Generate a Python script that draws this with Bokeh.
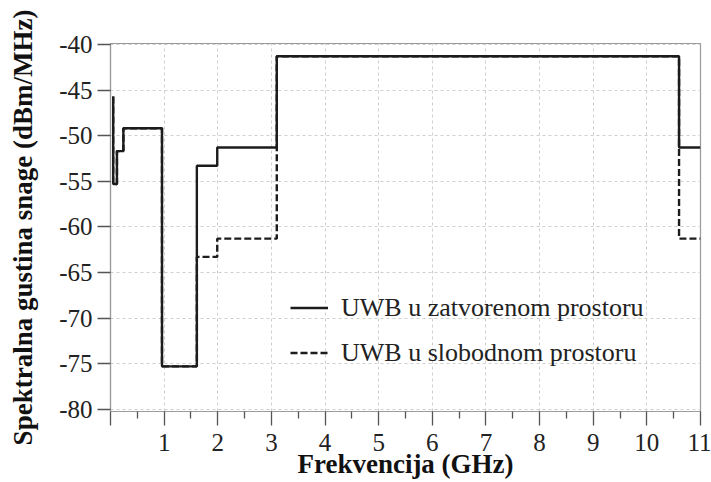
from bokeh.plotting import figure
from bokeh.models import Range1d, FixedTicker, Legend, LegendItem
from bokeh.embed import file_html
from bokeh.resources import INLINE

# Step edges (GHz) and PSD levels (dBm/MHz), mode "after"
freq_indoor = [0.05, 0.05, 0.12, 0.24, 0.96, 1.61, 1.99, 3.10, 10.60, 11.00]
psd_indoor = [-45.7, -55.3, -51.7, -49.2, -75.3, -53.3, -51.3, -41.3, -51.3, -51.3]

freq_outdoor = [0.05, 0.05, 0.12, 0.24, 0.96, 1.61, 1.99, 3.10, 10.60, 11.00]
psd_outdoor = [-45.7, -55.3, -51.7, -49.2, -75.3, -63.3, -61.3, -41.3, -61.3, -61.3]

x_ticks = [0, 1, 2, 3, 4, 5, 6, 7, 8, 9, 10, 11]
x_minor = [0.5, 1.5, 2.5, 3.5, 4.5, 5.5, 6.5, 7.5, 8.5, 9.5, 10.5]
x_labels = {0: "", 1: "1", 2: "2", 3: "3", 4: "4", 5: "5", 6: "6",
            7: "7", 8: "8", 9: "9", 10: "10", 11: "11"}
y_ticks = [-80, -75, -70, -65, -60, -55, -50, -45, -40]
y_labels = {-80: "-80", -75: "-75", -70: "-70", -65: "-65", -60: "-60",
            -55: "-55", -50: "-50", -45: "-45", -40: "-40"}

label_indoor = "UWB u zatvorenom prostoru"
label_outdoor = "UWB u slobodnom prostoru"
x_title = "Frekvencija (GHz)"
y_title = "Spektralna gustina snage (dBm/MHz)"

FONT = "Liberation Serif"
INK = "#1c1c1c"

p = figure(width=711, height=482, output_backend="svg", toolbar_location=None,
           x_range=Range1d(0, 11), y_range=Range1d(-80.25, -39.9),
           min_border_left=110, min_border_right=11, min_border_top=43,
           min_border_bottom=71)

p.outline_line_color = "#9a9a9a"
p.outline_line_width = 1.2
p.background_fill_color = "white"
p.border_fill_color = "white"

r_out = p.step(freq_outdoor, psd_outdoor, mode="after", line_color=INK,
               line_width=2.4, line_dash="7 3")
r_in = p.step(freq_indoor, psd_indoor, mode="after", line_color=INK,
              line_width=2.4)

# axes
xa = p.xaxis[0]
xa.ticker = FixedTicker(ticks=x_ticks, minor_ticks=x_minor)
xa.major_label_overrides = x_labels
ya = p.yaxis[0]
ya.ticker = FixedTicker(ticks=y_ticks, minor_ticks=[])
ya.major_label_overrides = y_labels

for ax in (xa, ya):
    ax.axis_line_color = "#9a9a9a"
    ax.axis_line_width = 1.2
    ax.major_tick_line_color = "#555555"
    ax.major_tick_line_width = 1.3
    ax.minor_tick_line_color = "#555555"
    ax.minor_tick_line_width = 1.3
    ax.major_tick_in = 0
    ax.minor_tick_in = 0
    ax.major_label_text_font = FONT
    ax.major_label_text_font_size = "25px"
    ax.major_label_text_color = "#222222"
    ax.axis_label_text_font = FONT
    ax.axis_label_text_font_size = "27px"
    ax.axis_label_text_font_style = "bold"
    ax.axis_label_text_color = "#111111"

xa.major_tick_out = 14
xa.minor_tick_out = 7
xa.major_label_standoff = 8
xa.axis_label = x_title
xa.axis_label_standoff = -5

ya.major_tick_out = 13
ya.minor_tick_out = 0
ya.major_label_standoff = 5
ya.axis_label = y_title
ya.axis_label_standoff = 18

# grid
for g in (p.xgrid[0], p.ygrid[0]):
    g.grid_line_color = "#cfcfcf"
    g.grid_line_width = 1
    g.grid_line_dash = "3 3"
p.xgrid[0].ticker = FixedTicker(ticks=x_ticks)
p.ygrid[0].ticker = FixedTicker(ticks=y_ticks)

legend = Legend(items=[LegendItem(label=label_indoor, renderers=[r_in]),
                       LegendItem(label=label_outdoor, renderers=[r_out])],
                location=(180, 43), orientation="vertical")
legend.background_fill_alpha = 0
legend.border_line_color = None
legend.padding = 0
legend.margin = 0
legend.spacing = 14
legend.glyph_width = 38
legend.glyph_height = 31
legend.label_height = 31
legend.label_standoff = 13
legend.label_text_font = FONT
legend.label_text_font_size = "26px"
legend.label_text_color = "#222222"
legend.label_text_baseline = "middle"
p.add_layout(legend, "center")

open("out.html", "w").write(file_html(p, INLINE))
